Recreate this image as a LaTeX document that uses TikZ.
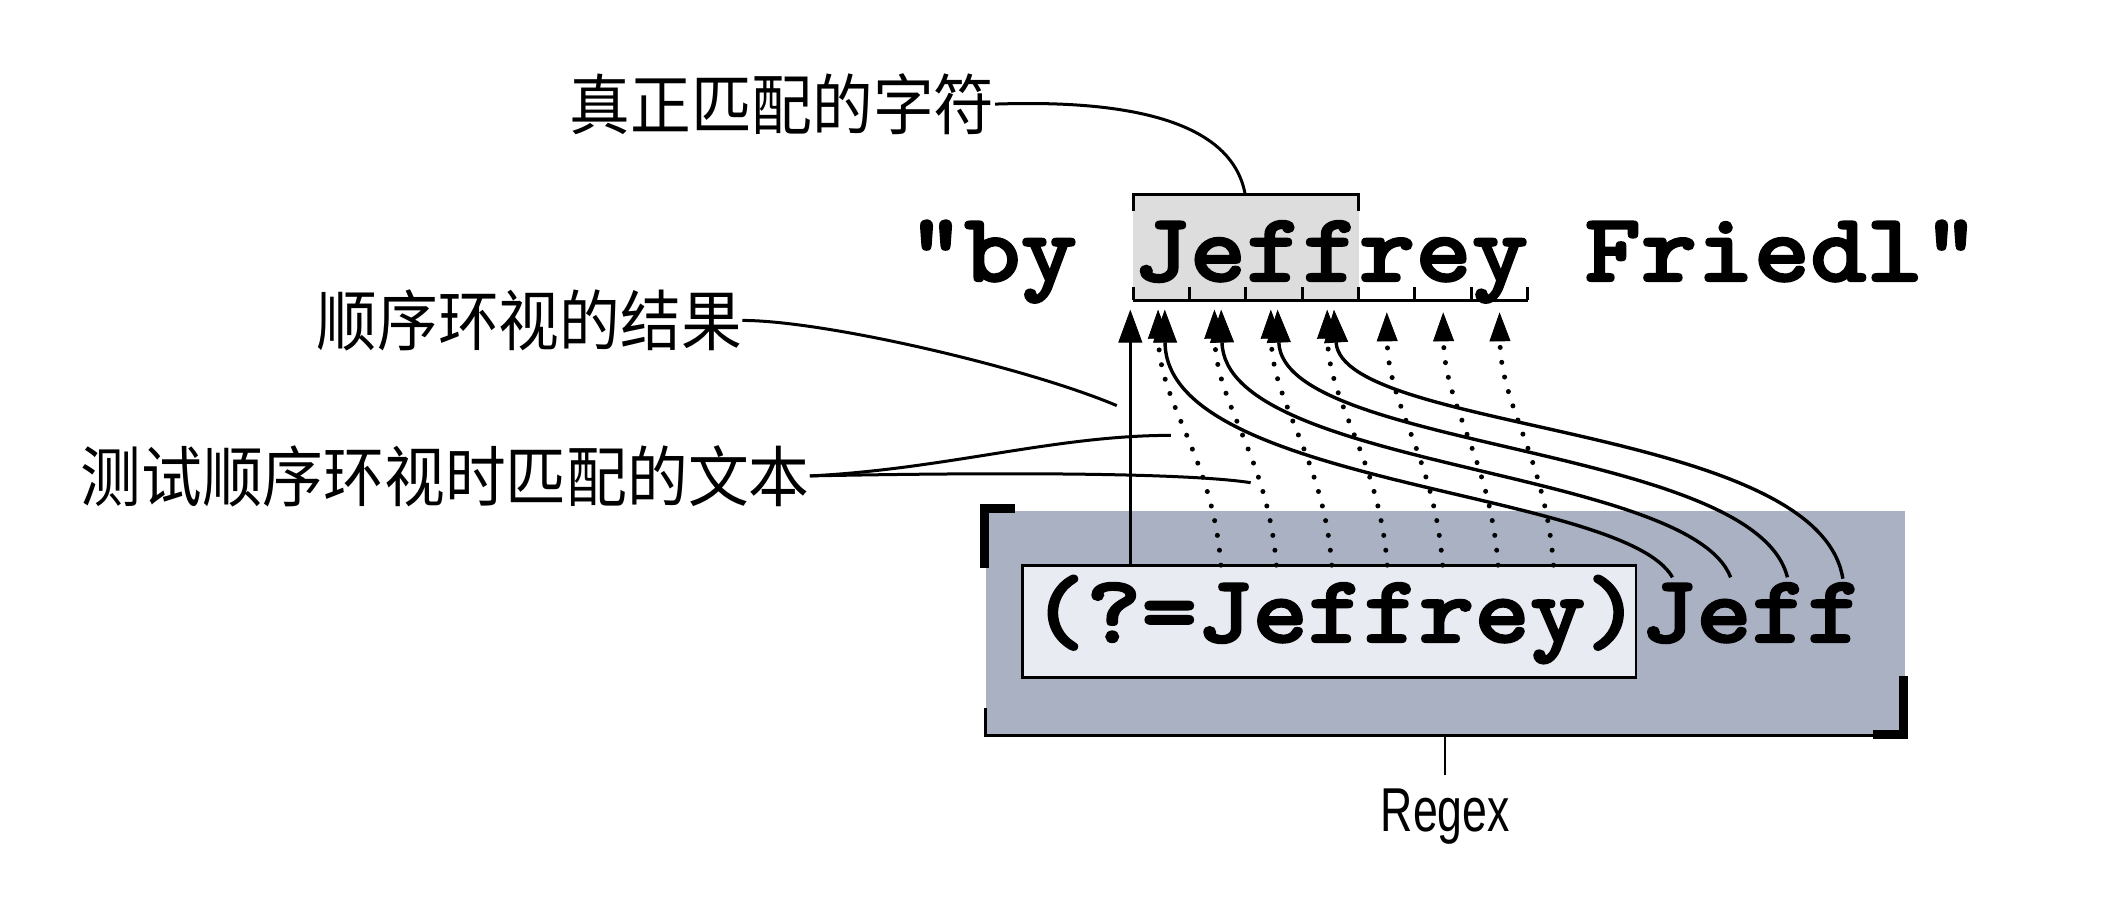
\documentclass[tikz,border=0pt]{standalone}
\usepackage{fontspec}
\usetikzlibrary{arrows.meta}
\newfontfamily\cjkfont[FakeStretch=0.92]{Noto Sans CJK SC}
\newfontfamily\codefont{lmmonolt10-bold.otf}[FakeStretch=1.096,FakeBold=2]
\newfontfamily\rxlabelfont[FakeStretch=0.72]{Liberation Sans}
\definecolor{outergray}{HTML}{A9B1C3}
\definecolor{innerfill}{HTML}{E8EBF2}
\definecolor{hlgray}{HTML}{DDDDDD}
\begin{document}
\begin{tikzpicture}[x=0.676pt,y=-0.676pt,
  cjklabel/.style={font=\cjkfont\fontsize{33}{40}\selectfont,inner sep=0pt,anchor=east},
  mainstr/.style={font=\codefont\fontsize{49}{58}\selectfont,inner sep=0pt,anchor=base west},
  regexstr/.style={font=\codefont\fontsize{48.2}{57}\selectfont,inner sep=0pt,anchor=base west},
  rxlabel/.style={font=\rxlabelfont\fontsize{31}{36}\selectfont,inner sep=0pt,anchor=north},
  innerbox/.style={draw,fill=innerfill,line width=1.4pt,minimum width=306.9pt,minimum height=56.1pt,inner sep=0pt},
  leader/.style={line width=1.5pt},
  rulerline/.style={line width=1.5pt},
  cornermark/.style={line width=4.5pt},
  solidarrow/.style={line width=1.7pt,-{Triangle[length=16.5pt,width=12pt,line width=0.4pt]}},
  dotarrow/.style={line width=2.5pt,line cap=round,dash pattern=on 0pt off 7.5pt,-{Triangle[length=14.5pt,width=10.5pt,line width=0.4pt]}},
]
\useasboundingbox (0,0) rectangle (1568,672);
\fill[white] (0,0) rectangle (1568,672);

% ---- target string with highlight
\fill[hlgray] (838,144) rectangle (1005,222);
\draw[rulerline] (838,156) -- (838,144) -- (1005,144) -- (1005,156);
\draw[rulerline] (838,222) -- (1130,222);
\foreach \k in {0,...,7} \draw[rulerline] ({838+41.7*\k},222) -- ({838+41.7*\k},212);
\node[mainstr] (str) at (671.2,208) {"by Jeffrey Friedl"};

% ---- regex box
\fill[outergray] (729,378) rectangle (1409,545);
\node[innerbox] (inner) at (983,459.5) {};
\node[regexstr] (rx) at (762,475) {(?=Jeffrey)Jeff};
\draw[cornermark] (728.3,420) -- (728.3,376.3) -- (751,376.3);
\draw[rulerline] (729,524) -- (729,544) -- (1409,544);
\draw[cornermark] (1385,543) -- (1408,543) -- (1408,500);
\node[rxlabel] (rl) at (1069,583) {Regex};
\coordinate (rxtick) at (1069,544);
\coordinate (rltop) at (1069,573);
\draw[line width=1.1pt] (rxtick) -- (rltop);

% ---- labels
\node[cjklabel] (lbla) at (736,77) {真正匹配的字符};
\node[cjklabel] (lblb) at (549,237) {顺序环视的结果};
\node[cjklabel] (lblc) at (599,352) {测试顺序环视时匹配的文本};

% ---- arrow end points
\coordinate (vsrc) at (836,418);
\coordinate (vtip) at (836,229);
\coordinate (ds0) at (903,418);  \coordinate (dt0) at (856.5,229);
\coordinate (ds1) at (944,418);  \coordinate (dt1) at (898.2,229);
\coordinate (ds2) at (985,418);  \coordinate (dt2) at (939.9,229);
\coordinate (ds3) at (1026,418); \coordinate (dt3) at (981.6,229);
\coordinate (ds4) at (1067,418); \coordinate (dt4) at (1025.7,231);
\coordinate (ds5) at (1108,418); \coordinate (dt5) at (1067.4,231);
\coordinate (ds6) at (1149,418); \coordinate (dt6) at (1109.1,231);
\coordinate (ss0) at (1237,427); \coordinate (st0) at (861.5,229);
\coordinate (ss1) at (1280,427); \coordinate (st1) at (903.2,229);
\coordinate (ss2) at (1322,427); \coordinate (st2) at (944.9,229);
\coordinate (ss3) at (1363,428); \coordinate (st3) at (986.6,229);

% ---- arrows
\draw[solidarrow] (vsrc) -- (vtip);
\foreach \k in {0,...,6}
  \draw[dotarrow] (ds\k) .. controls +(-6,-80) and +(1,70) .. (dt\k);
\draw[solidarrow] (ss0) .. controls +(-37,-65) and +(1,131) .. (st0);
\draw[solidarrow] (ss1) .. controls +(-31,-81) and +(3,118) .. (st1);
\draw[solidarrow] (ss2) .. controls +(-24,-98) and +(4,104) .. (st2);
\draw[solidarrow] (ss3) .. controls +(-18,-114) and +(6,91) .. (st3);

% ---- leader lines
\coordinate (tbr) at (921,144);
\coordinate (lbend) at (826,300);
\coordinate (lc1) at (866,322);
\coordinate (lc2) at (925,357);
\draw[leader] (lbla.east) .. controls (880,72) and (915,110) .. (tbr);
\draw[leader] (lblb.east) .. controls (610,237) and (760,272) .. (lbend);
\draw[leader] (lblc.east) .. controls (700,347) and (780,322) .. (lc1);
\draw[leader] (lblc.east) .. controls (750,349) and (880,350) .. (lc2);
\end{tikzpicture}
\end{document}
